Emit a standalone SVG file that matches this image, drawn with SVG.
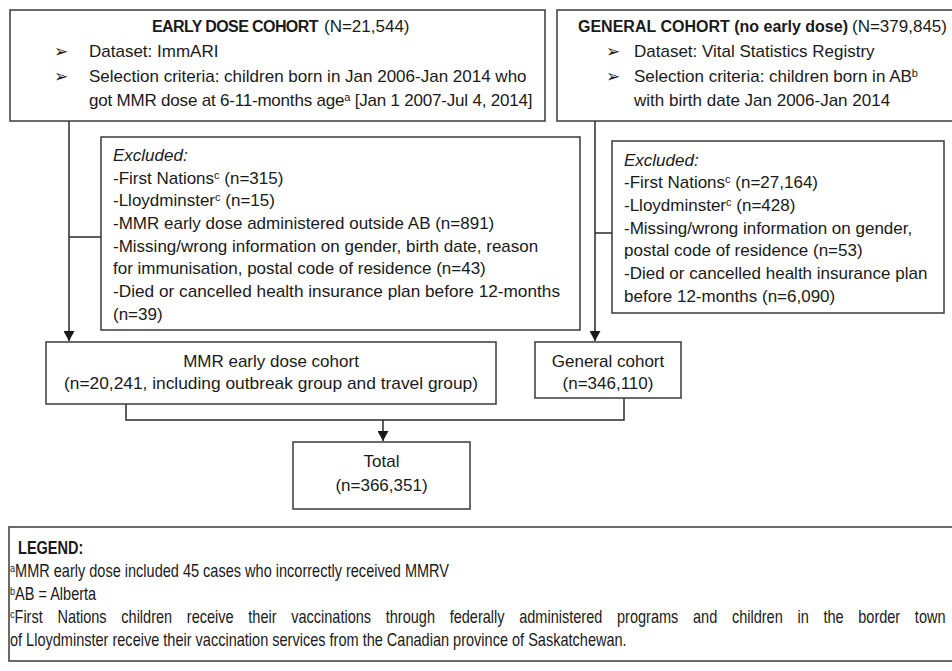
<svg xmlns="http://www.w3.org/2000/svg" width="952" height="671" viewBox="0 0 952 671">
<style>
text{font-family:"Liberation Sans",Arial,sans-serif;font-size:17px;fill:#1a1a1a}
.b{font-weight:bold;font-size:16px}
.i{font-style:italic}
.bul{font-family:"DejaVu Sans",sans-serif;font-size:17px}
.box{fill:#fff;stroke:#3a3a3a;stroke-width:1.5}
.ln{fill:none;stroke:#2a2a2a;stroke-width:1.5}
.sup{font-size:11px}
.lg{font-size:17.5px}
</style>
<defs>
<marker id="arr" markerUnits="userSpaceOnUse" markerWidth="10" markerHeight="11" refX="10" refY="5.5" orient="auto">
<path d="M0,0 L10,5.5 L0,11 z" fill="#1a1a1a"/>
</marker>
</defs>

<g id="connectors">
<path class="ln" d="M69,121 V341" marker-end="url(#arr)"/>
<path class="ln" d="M69,237 H101"/>
<path class="ln" d="M595,121 V341" marker-end="url(#arr)"/>
<path class="ln" d="M595,233 H612"/>
<path class="ln" d="M126,404 V420 H624 V398"/>
<path class="ln" d="M383,420 V441" marker-end="url(#arr)"/>
</g>

<g id="early-cohort">
<rect class="box" x="10" y="10" width="535" height="111"/>
<text class="b" x="152" y="32" letter-spacing="-0.6">EARLY DOSE COHORT</text>
<text x="324" y="32">(N=21,544)</text>
<text class="bul" x="54" y="57">➢</text>
<text x="89" y="57">Dataset: ImmARI</text>
<text class="bul" x="54" y="82">➢</text>
<text x="89" y="82">Selection criteria: children born in Jan 2006-Jan 2014 who</text>
<text x="89" y="106" letter-spacing="-0.2">got MMR dose at 6-11-months age<tspan class="sup" dy="-5">a</tspan><tspan dy="5"> [Jan 1 2007-Jul 4, 2014]</tspan></text>
</g>

<g id="general-cohort">
<rect class="box" x="557" y="10" width="410" height="111"/>
<text class="b" x="578" y="32">GENERAL COHORT (no early dose)</text>
<text x="852" y="32">(N=379,845)</text>
<text class="bul" x="606" y="57">➢</text>
<text x="634" y="57">Dataset: Vital Statistics Registry</text>
<text class="bul" x="606" y="82">➢</text>
<text x="634" y="82">Selection criteria: children born in AB<tspan class="sup" dy="-5">b</tspan></text>
<text x="634" y="106">with birth date Jan 2006-Jan 2014</text>
</g>

<g id="excluded-early">
<rect class="box" x="101" y="137" width="479" height="193"/>
<text class="i" x="113" y="161">Excluded:</text>
<text x="113" y="184">-First Nations<tspan class="sup" dy="-5">c</tspan><tspan dy="5"> (n=315)</tspan></text>
<text x="113" y="206">-Lloydminster<tspan class="sup" dy="-5">c</tspan><tspan dy="5"> (n=15)</tspan></text>
<text x="113" y="229">-MMR early dose administered outside AB (n=891)</text>
<text x="113" y="252">-Missing/wrong information on gender, birth date, reason</text>
<text x="113" y="274">for immunisation, postal code of residence (n=43)</text>
<text x="113" y="297" textLength="447" lengthAdjust="spacingAndGlyphs">-Died or cancelled health insurance plan before 12-months</text>
<text x="113" y="320">(n=39)</text>
</g>

<g id="excluded-general">
<rect class="box" x="612" y="141" width="332" height="172"/>
<text class="i" x="624" y="166">Excluded:</text>
<text x="624" y="188">-First Nations<tspan class="sup" dy="-5">c</tspan><tspan dy="5"> (n=27,164)</tspan></text>
<text x="624" y="211">-Lloydminster<tspan class="sup" dy="-5">c</tspan><tspan dy="5"> (n=428)</tspan></text>
<text x="624" y="234">-Missing/wrong information on gender,</text>
<text x="624" y="256">postal code of residence (n=53)</text>
<text x="624" y="279">-Died or cancelled health insurance plan</text>
<text x="624" y="302">before 12-months (n=6,090)</text>
</g>

<g id="mmr-cohort">
<rect class="box" x="46" y="342" width="450" height="62"/>
<text x="271" y="367" text-anchor="middle">MMR early dose cohort</text>
<text x="271" y="389" text-anchor="middle" textLength="414" lengthAdjust="spacingAndGlyphs">(n=20,241, including outbreak group and travel group)</text>
</g>

<g id="general-final">
<rect class="box" x="535" y="342" width="146" height="56"/>
<text x="608" y="367" text-anchor="middle">General cohort</text>
<text x="608" y="389" text-anchor="middle">(n=346,110)</text>
</g>

<g id="total">
<rect class="box" x="293" y="442" width="177" height="67"/>
<text x="381.5" y="467" text-anchor="middle">Total</text>
<text x="381.5" y="491" text-anchor="middle">(n=366,351)</text>
</g>

<g id="legend">
<rect class="box" x="9" y="527" width="960" height="134"/>
<g transform="scale(0.83,1)">
<text class="b lg" x="21.7" y="554">LEGEND:</text>
<text class="lg" x="12" y="577"><tspan class="sup" dy="-5">a</tspan><tspan dy="5">MMR early dose included 45 cases who incorrectly received MMRV</tspan></text>
<text class="lg" x="12" y="600"><tspan class="sup" dy="-5">b</tspan><tspan dy="5">AB = Alberta</tspan></text>
<text class="lg" x="12" y="623" word-spacing="12.8"><tspan class="sup" dy="-5">c</tspan><tspan dy="5">First Nations children receive their vaccinations through federally administered programs and children in the border town</tspan></text>
<text class="lg" x="12" y="646">of Lloydminster receive their vaccination services from the Canadian province of Saskatchewan.</text>
</g>
</g>
</svg>
